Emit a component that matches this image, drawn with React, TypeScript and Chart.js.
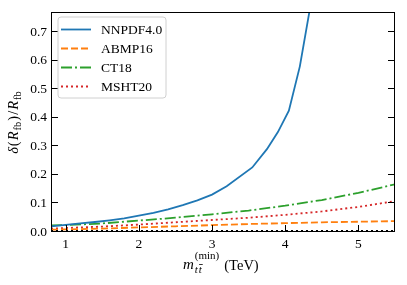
import React, { useEffect, useRef } from "react";
import { Chart, registerables } from "chart.js";
Chart.register(...registerables);

// ---- data ----
const nnpdfMass = [0.8, 1.0, 1.2, 1.4, 1.6, 1.8, 2.0, 2.2, 2.4, 2.6, 2.8, 3.0, 3.2, 3.55, 3.75, 3.9, 4.05, 4.2, 4.35];
const nnpdf40 = [0.020, 0.025, 0.030, 0.035, 0.041, 0.048, 0.057, 0.067, 0.079, 0.094, 0.111, 0.131, 0.160, 0.226, 0.29, 0.35, 0.425, 0.58, 0.80];
const massGrid = [0.8, 1.0, 1.5, 2.0, 2.5, 3.0, 3.5, 4.0, 4.5, 5.0, 5.5];
const abmp16 = [0.008, 0.009, 0.012, 0.016, 0.020, 0.024, 0.028, 0.031, 0.034, 0.036, 0.038];
const ct18 = [0.023, 0.024, 0.030, 0.040, 0.050, 0.062, 0.075, 0.092, 0.112, 0.137, 0.167];
const msht20 = [0.012, 0.014, 0.019, 0.026, 0.034, 0.042, 0.050, 0.060, 0.072, 0.088, 0.108];
const seriesLabels = ["NNPDF4.0", "ABMP16", "CT18", "MSHT20"];
const xTicks = [1, 2, 3, 4, 5];
const yTicks = [0, 0.1, 0.2, 0.3, 0.4, 0.5, 0.6, 0.7];

const SERIF = '"Liberation Serif", "DejaVu Serif", serif';
const colors = ["#1f77b4", "#ff7f0e", "#2ca02c", "#d62728"];
const dashes: number[][] = [[], [7, 3], [11, 3, 2, 3], [2, 3]];

const toPts = (xs: number[], ys: number[]) => xs.map((x, i) => ({ x, y: ys[i] }));

const framePlugin = {
  id: "frame",
  afterDatasetsDraw(chart: any) {
    const { ctx, chartArea: a, scales } = chart;
    const xs = scales.x, ys = scales.y;
    ctx.save();
    const y0 = ys.getPixelForValue(0);
    ctx.strokeStyle = "#000";
    ctx.lineWidth = 1;
    ctx.setLineDash([]);
    ctx.strokeRect(Math.round(a.left) + 0.5, Math.round(a.top) + 0.5, Math.round(a.right - a.left) - 1, Math.round(a.bottom - a.top) - 1);
    ctx.lineWidth = 1.8;
    ctx.setLineDash([2, 3]);
    ctx.beginPath();
    ctx.moveTo(a.left, y0 - 1);
    ctx.lineTo(a.right, y0 - 1);
    ctx.stroke();
    ctx.setLineDash([]);
    ctx.lineWidth = 1;
    const tl = 7;
    for (const v of yTicks) {
      const y = Math.round(ys.getPixelForValue(v)) - 0.5;
      ctx.beginPath();
      ctx.moveTo(a.left, y); ctx.lineTo(a.left + tl, y);
      ctx.moveTo(a.right, y); ctx.lineTo(a.right - tl, y);
      ctx.stroke();
    }
    for (const v of xTicks) {
      const x = Math.round(xs.getPixelForValue(v)) + 0.5;
      ctx.beginPath();
      ctx.moveTo(x, a.bottom); ctx.lineTo(x, a.bottom - tl);
      ctx.stroke();
    }
    ctx.restore();
  },
  afterDraw(chart: any) {
    const { ctx, chartArea: a } = chart;
    ctx.save();
    const bx = 58, by = 17, bw = 108, bh = 81, r = 3;
    ctx.beginPath();
    ctx.moveTo(bx + r, by);
    ctx.arcTo(bx + bw, by, bx + bw, by + bh, r);
    ctx.arcTo(bx + bw, by + bh, bx, by + bh, r);
    ctx.arcTo(bx, by + bh, bx, by, r);
    ctx.arcTo(bx, by, bx + bw, by, r);
    ctx.closePath();
    ctx.fillStyle = "rgba(255,255,255,0.8)";
    ctx.fill();
    ctx.strokeStyle = "#d0d0d0";
    ctx.lineWidth = 1;
    ctx.stroke();
    const rowY = [29.5, 48.5, 67.5, 86.5];
    seriesLabels.forEach((lab, i) => {
      ctx.strokeStyle = colors[i];
      ctx.lineWidth = 1.8;
      ctx.setLineDash(dashes[i]);
      ctx.beginPath();
      ctx.moveTo(61, rowY[i]);
      ctx.lineTo(91, rowY[i]);
      ctx.stroke();
      ctx.setLineDash([]);
      ctx.fillStyle = "#000";
      ctx.font = `13.5px ${SERIF}`;
      ctx.textBaseline = "middle";
      ctx.textAlign = "left";
      ctx.fillText(lab, 101, rowY[i] + 0.5);
    });

    // x-axis label: m_{t tbar}^{(min)} (TeV)
    ctx.fillStyle = "#000";
    ctx.strokeStyle = "#000";
    ctx.textBaseline = "alphabetic";
    ctx.textAlign = "left";
    let x = 183;
    const base = 269;
    ctx.font = `italic 15px ${SERIF}`;
    ctx.fillText("m", x, base);
    x += ctx.measureText("m").width + 1;
    ctx.font = `italic 11px ${SERIF}`;
    const tw = ctx.measureText("t").width;
    ctx.fillText("t", x, base + 4);
    ctx.fillText("t", x + tw + 0.8, base + 4);
    ctx.lineWidth = 0.8;
    ctx.beginPath();
    ctx.moveTo(x + tw + 1.2, base - 4.5);
    ctx.lineTo(x + 2 * tw + 1.8, base - 4.5);
    ctx.stroke();
    ctx.font = `11px ${SERIF}`;
    ctx.fillText("(min)", x, base - 10);
    const supW = ctx.measureText("(min)").width;
    x += supW + 5;
    ctx.font = `14.5px ${SERIF}`;
    ctx.fillText("(TeV)", x, base + 1);

    // y-axis label: delta(R_fb)/R_fb
    ctx.save();
    ctx.translate(18, (a.top + a.bottom) / 2);
    ctx.rotate(-Math.PI / 2);
    const segs: [string, string, number][] = [
      ["δ", `italic 14.5px ${SERIF}`, 0],
      ["(", `14.5px ${SERIF}`, 0],
      ["R", `italic 14.5px ${SERIF}`, 0],
      ["fb", `10.5px ${SERIF}`, 3],
      [")", `14.5px ${SERIF}`, 0],
      ["/", `14.5px ${SERIF}`, 0],
      ["R", `italic 14.5px ${SERIF}`, 0],
      ["fb", `10.5px ${SERIF}`, 3],
    ];
    let total = 0;
    for (const [t, f] of segs) { ctx.font = f; total += ctx.measureText(t).width + 1; }
    let sx = -total / 2;
    for (const [t, f, dy] of segs) {
      ctx.font = f;
      ctx.fillText(t, sx, dy);
      sx += ctx.measureText(t).width + 1;
    }
    ctx.restore();
    ctx.restore();
  },
};

export default function App() {
  const ref = useRef<HTMLCanvasElement | null>(null);
  useEffect(() => {
    if (!ref.current) return;
    const mk = (i: number, pts: { x: number; y: number }[]) => ({
      label: seriesLabels[i],
      data: pts,
      borderColor: colors[i],
      backgroundColor: colors[i],
      borderWidth: 1.8,
      borderDash: dashes[i],
      pointRadius: 0,
      tension: 0,
      fill: false,
    });
    const chart = new Chart(ref.current, {
      type: "line",
      data: {
        datasets: [
          mk(0, toPts(nnpdfMass, nnpdf40)),
          mk(1, toPts(massGrid, abmp16)),
          mk(2, toPts(massGrid, ct18)),
          mk(3, toPts(massGrid, msht20)),
        ],
      },
      options: {
        animation: false,
        responsive: false,
        devicePixelRatio: 1,
        layout: { padding: { top: 11, right: 12, left: 0, bottom: 0 } },
        plugins: { legend: { display: false }, tooltip: { enabled: false } },
        scales: {
          x: {
            type: "linear",
            min: 0.8,
            max: 5.5,
            grid: { display: false, drawTicks: false },
            border: { display: false },
            afterBuildTicks: (s: any) => { s.ticks = xTicks.map((v) => ({ value: v })); },
            afterFit: (s: any) => { s.height = 53; },
            ticks: {
              padding: 4,
              color: "#000",
              font: { family: SERIF, size: 13.5 },
              callback: (v: any) => String(v),
              maxRotation: 0,
            },
          },
          y: {
            type: "linear",
            min: 0,
            max: 0.77,
            grid: { display: false, drawTicks: false },
            border: { display: false },
            afterBuildTicks: (s: any) => { s.ticks = yTicks.map((v) => ({ value: v })); },
            afterFit: (s: any) => { s.width = 51; },
            ticks: {
              padding: 4,
              color: "#000",
              font: { family: SERIF, size: 13.5 },
              callback: (v: any) => Number(v).toFixed(1),
            },
          },
        },
      },
      plugins: [framePlugin],
    } as any);
    return () => chart.destroy();
  }, []);
  return (
    <div style={{ position: "absolute", left: 0, top: 0, width: 407, height: 285, background: "#fff" }}>
      <canvas ref={ref} width={407} height={285} />
    </div>
  );
}
